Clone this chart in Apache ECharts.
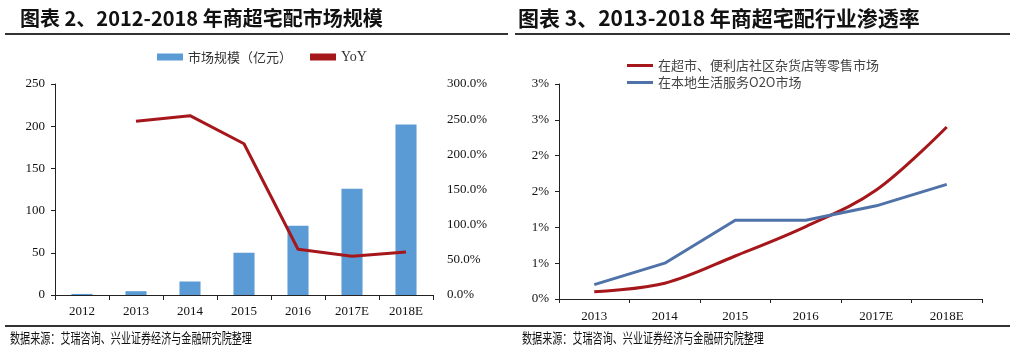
<!DOCTYPE html>
<html>
<head>
<meta charset="utf-8">
<script src="https://cdn.jsdelivr.net/npm/echarts@6/dist/echarts.min.js"></script>
<style>
html,body{margin:0;padding:0;background:#fff;}
#c{width:1036px;height:358px;}
</style>
</head>
<body>
<div id="c"></div>
<script>
// Left chart data
const leftCategories = ['2012', '2013', '2014', '2015', '2016', '2017E', '2018E'];
const marketSize = [1.3, 4.5, 16, 50, 82, 126, 202];
const yoy = [null, 247, 255, 215, 65, 55, 61];
const leftTicks = [0, 50, 100, 150, 200, 250];

// Right chart data
const rightCategories = ['2013', '2014', '2015', '2016', '2017E', '2018E'];
const retailPenetration = [0.10, 0.22, 0.60, 1.01, 1.52, 2.40];
const o2oPenetration = [0.20, 0.50, 1.10, 1.10, 1.30, 1.60];

const leftTitle = '图表 2、2012-2018 年商超宅配市场规模';
const rightTitle = '图表 3、2013-2018 年商超宅配行业渗透率';
const sourceText = '数据来源：艾瑞咨询、兴业证券经济与金融研究院整理';

const serif = '"Liberation Serif", "Times New Roman", serif';
const cjk = '"Noto Sans CJK SC", sans-serif';
const axisLineStyle = {color: '#222', width: 1};

const chart = echarts.init(document.getElementById('c'), null, {renderer: 'canvas'});
chart.setOption({
  backgroundColor: '#fff',
  animation: false,
  graphic: [
    {type: 'text', left: 20, top: 8, style: {text: leftTitle, font: 'bold 20px ' + cjk, fill: '#111'}},
    {type: 'text', left: 518, top: 8, style: {text: rightTitle, font: 'bold 21px ' + cjk, fill: '#111'}},
    {type: 'rect', shape: {x: 5, y: 33, width: 503, height: 2}, style: {fill: '#333'}},
    {type: 'rect', shape: {x: 515, y: 33, width: 495, height: 2}, style: {fill: '#333'}},
    {type: 'rect', shape: {x: 5, y: 325, width: 1005, height: 2}, style: {fill: '#333'}},
    {type: 'text', x: 10, y: 331, scaleX: 0.72, style: {text: sourceText, font: '14px ' + cjk, fill: '#111'}},
    {type: 'text', x: 522, y: 331, scaleX: 0.72, style: {text: sourceText, font: '14px ' + cjk, fill: '#111'}}
  ],
  legend: [
    {
      left: 152, top: 45, itemGap: 18, itemWidth: 26, itemHeight: 7,
      textStyle: {fontFamily: cjk, fontSize: 13, color: '#333'},
      data: [
        {name: '市场规模（亿元）', icon: 'rect'},
        {name: 'YoY', icon: 'rect', itemStyle: {color: '#A6171C'}, textStyle: {fontFamily: serif, fontSize: 14}}
      ]
    },
    {
      left: 622, top: 54, orient: 'vertical', itemGap: 4, itemWidth: 26, itemHeight: 3,
      textStyle: {fontFamily: cjk, fontSize: 13, color: '#444'},
      data: [
        {name: '在超市、便利店社区杂货店等零售市场', icon: 'rect'},
        {name: '在本地生活服务O2O市场', icon: 'rect'}
      ]
    }
  ],
  grid: [
    {left: 55, right: 1036 - 433, top: 84, bottom: 358 - 295, containLabel: false},
    {left: 559, right: 1036 - 982, top: 84, bottom: 358 - 299, containLabel: false}
  ],
  xAxis: [
    {
      type: 'category', gridIndex: 0, data: leftCategories, boundaryGap: true,
      axisLine: {lineStyle: axisLineStyle},
      axisTick: {show: true, length: 5, inside: false, lineStyle: axisLineStyle},
      axisLabel: {fontFamily: serif, fontSize: 13, color: '#111', margin: 10, interval: 0}
    },
    {
      type: 'category', gridIndex: 1, data: rightCategories, boundaryGap: true,
      axisLine: {lineStyle: axisLineStyle},
      axisTick: {show: true, length: 4, inside: false, lineStyle: axisLineStyle},
      axisLabel: {fontFamily: serif, fontSize: 13, color: '#111', margin: 11, interval: 0}
    }
  ],
  yAxis: [
    {
      type: 'value', gridIndex: 0, min: 0, max: 250, interval: 50,
      axisLine: {show: true, lineStyle: axisLineStyle},
      axisTick: {show: true, length: 4, lineStyle: axisLineStyle},
      splitLine: {show: false},
      axisLabel: {fontFamily: serif, fontSize: 13, color: '#111', margin: 10}
    },
    {
      type: 'value', gridIndex: 0, position: 'right', min: 0, max: 300, interval: 50,
      axisLine: {show: false},
      axisTick: {show: false},
      splitLine: {show: false},
      axisLabel: {fontFamily: serif, fontSize: 13, color: '#111', margin: 14,
        formatter: v => v.toFixed(1) + '%'}
    },
    {
      type: 'value', gridIndex: 1, min: 0, max: 3, interval: 0.5,
      axisLine: {show: true, lineStyle: axisLineStyle},
      axisTick: {show: true, length: 4, lineStyle: axisLineStyle},
      splitLine: {show: false},
      axisLabel: {fontFamily: serif, fontSize: 13, color: '#111', margin: 10,
        formatter: v => Math.round(v) + '%'}
    }
  ],
  series: [
    {
      name: '市场规模（亿元）', type: 'bar', xAxisIndex: 0, yAxisIndex: 0,
      data: marketSize, barWidth: '39%', itemStyle: {color: '#5B9BD5'}
    },
    {
      name: 'YoY', type: 'line', xAxisIndex: 0, yAxisIndex: 1,
      data: yoy, symbol: 'none', lineStyle: {color: '#A6171C', width: 3},
      itemStyle: {color: '#A6171C'}
    },
    {
      name: '在超市、便利店社区杂货店等零售市场', type: 'line', xAxisIndex: 1, yAxisIndex: 2,
      data: retailPenetration, smooth: 0.35, symbol: 'none',
      lineStyle: {color: '#A6171C', width: 3}, itemStyle: {color: '#A6171C'}
    },
    {
      name: '在本地生活服务O2O市场', type: 'line', xAxisIndex: 1, yAxisIndex: 2,
      data: o2oPenetration, symbol: 'none',
      lineStyle: {color: '#4F73A9', width: 3}, itemStyle: {color: '#4F73A9'}
    }
  ]
});
</script>
</body>
</html>
